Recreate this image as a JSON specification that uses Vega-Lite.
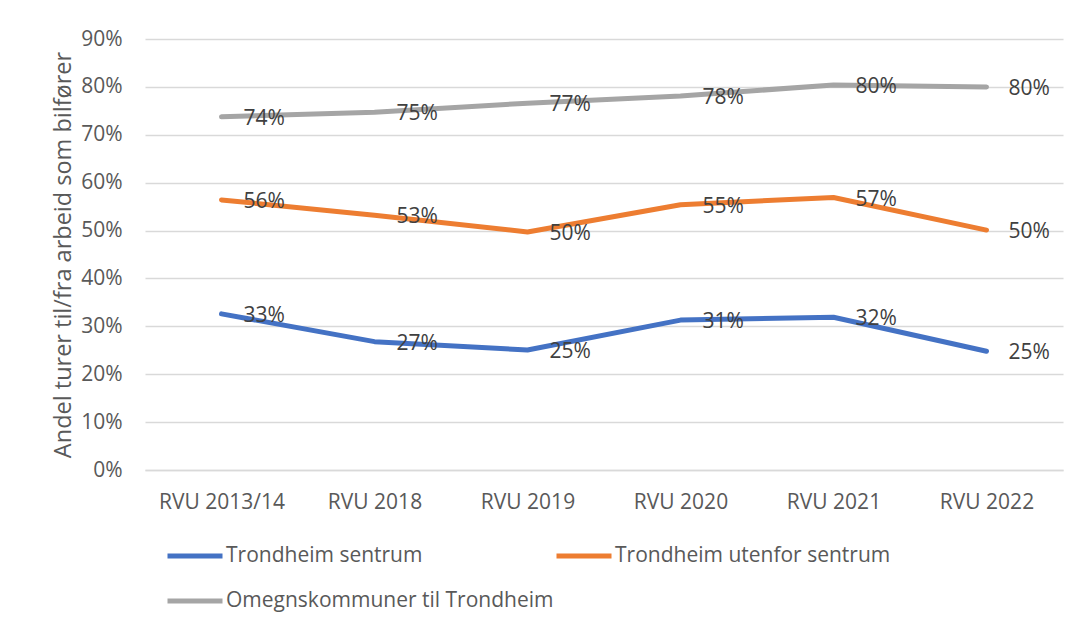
{
  "$schema": "https://vega.github.io/schema/vega-lite/v6.json",
  "width": 918,
  "height": 431,
  "autosize": {"type": "none"},
  "padding": {"left": 145, "top": 39, "right": 16, "bottom": 158},
  "background": "white",
  "config": {
    "view": {"stroke": null},
    "font": "Open Sans",
    "axis": {"labelFont": "Open Sans", "titleFont": "Open Sans", "labelColor": "#595959", "titleColor": "#595959", "ticks": false},
    "legend": {"labelFont": "Open Sans"}
  },
  "data": {
    "values": [
      {"rvu": "RVU 2013/14", "serie": "Trondheim sentrum", "andel": 0.326},
      {"rvu": "RVU 2018", "serie": "Trondheim sentrum", "andel": 0.268},
      {"rvu": "RVU 2019", "serie": "Trondheim sentrum", "andel": 0.2505},
      {"rvu": "RVU 2020", "serie": "Trondheim sentrum", "andel": 0.313},
      {"rvu": "RVU 2021", "serie": "Trondheim sentrum", "andel": 0.319},
      {"rvu": "RVU 2022", "serie": "Trondheim sentrum", "andel": 0.248},
      {"rvu": "RVU 2013/14", "serie": "Trondheim utenfor sentrum", "andel": 0.564},
      {"rvu": "RVU 2018", "serie": "Trondheim utenfor sentrum", "andel": 0.532},
      {"rvu": "RVU 2019", "serie": "Trondheim utenfor sentrum", "andel": 0.497},
      {"rvu": "RVU 2020", "serie": "Trondheim utenfor sentrum", "andel": 0.554},
      {"rvu": "RVU 2021", "serie": "Trondheim utenfor sentrum", "andel": 0.569},
      {"rvu": "RVU 2022", "serie": "Trondheim utenfor sentrum", "andel": 0.501},
      {"rvu": "RVU 2013/14", "serie": "Omegnskommuner til Trondheim", "andel": 0.7375},
      {"rvu": "RVU 2018", "serie": "Omegnskommuner til Trondheim", "andel": 0.747},
      {"rvu": "RVU 2019", "serie": "Omegnskommuner til Trondheim", "andel": 0.766},
      {"rvu": "RVU 2020", "serie": "Omegnskommuner til Trondheim", "andel": 0.781},
      {"rvu": "RVU 2021", "serie": "Omegnskommuner til Trondheim", "andel": 0.804},
      {"rvu": "RVU 2022", "serie": "Omegnskommuner til Trondheim", "andel": 0.800}
    ]
  },
  "encoding": {
    "x": {
      "field": "rvu", "type": "ordinal",
      "sort": ["RVU 2013/14", "RVU 2018", "RVU 2019", "RVU 2020", "RVU 2021", "RVU 2022"],
      "scale": {"type": "point", "padding": 0.5},
      "axis": {"title": null, "labelAngle": 0, "labelFontSize": 21, "labelPadding": 21, "domainColor": "#d9d9d9", "domainWidth": 1.5, "grid": false}
    },
    "y": {
      "field": "andel", "type": "quantitative",
      "scale": {"domain": [0, 0.9], "nice": false},
      "axis": {"title": "Andel turer til/fra arbeid som bilfører", "titleFontSize": 23.5, "titleFontWeight": "normal", "titlePadding": 5, "format": ".0%", "values": [0, 0.1, 0.2, 0.3, 0.4, 0.5, 0.6, 0.7, 0.8, 0.9], "labelFontSize": 21, "labelPadding": 23, "domain": false, "gridColor": "#d9d9d9", "gridWidth": 1.5}
    },
    "color": {
      "field": "serie", "type": "nominal",
      "sort": ["Trondheim sentrum", "Trondheim utenfor sentrum", "Omegnskommuner til Trondheim"],
      "scale": {"domain": ["Trondheim sentrum", "Trondheim utenfor sentrum", "Omegnskommuner til Trondheim"], "range": ["#4472c4", "#ed7d31", "#a5a5a5"]},
      "legend": {
        "title": null, "orient": "none", "legendX": 20, "legendY": 487,
        "direction": "horizontal", "columns": 2, "columnPadding": -8, "rowPadding": 5,
        "symbolType": "stroke", "symbolSize": 3025, "symbolStrokeWidth": 5,
        "labelFontSize": 21, "labelColor": "#595959", "labelOffset": 1, "labelLimit": 500
      }
    }
  },
  "layer": [
    {"mark": {"type": "line", "strokeWidth": 5, "strokeCap": "round", "strokeJoin": "round"}},
    {"mark": {"type": "text", "align": "left", "baseline": "middle", "dx": 22, "dy": 2, "fontSize": 21, "color": "#404040"},
     "encoding": {"text": {"field": "andel", "type": "quantitative", "format": ".0%"}, "color": {"value": "#404040"}}}
  ]
}
